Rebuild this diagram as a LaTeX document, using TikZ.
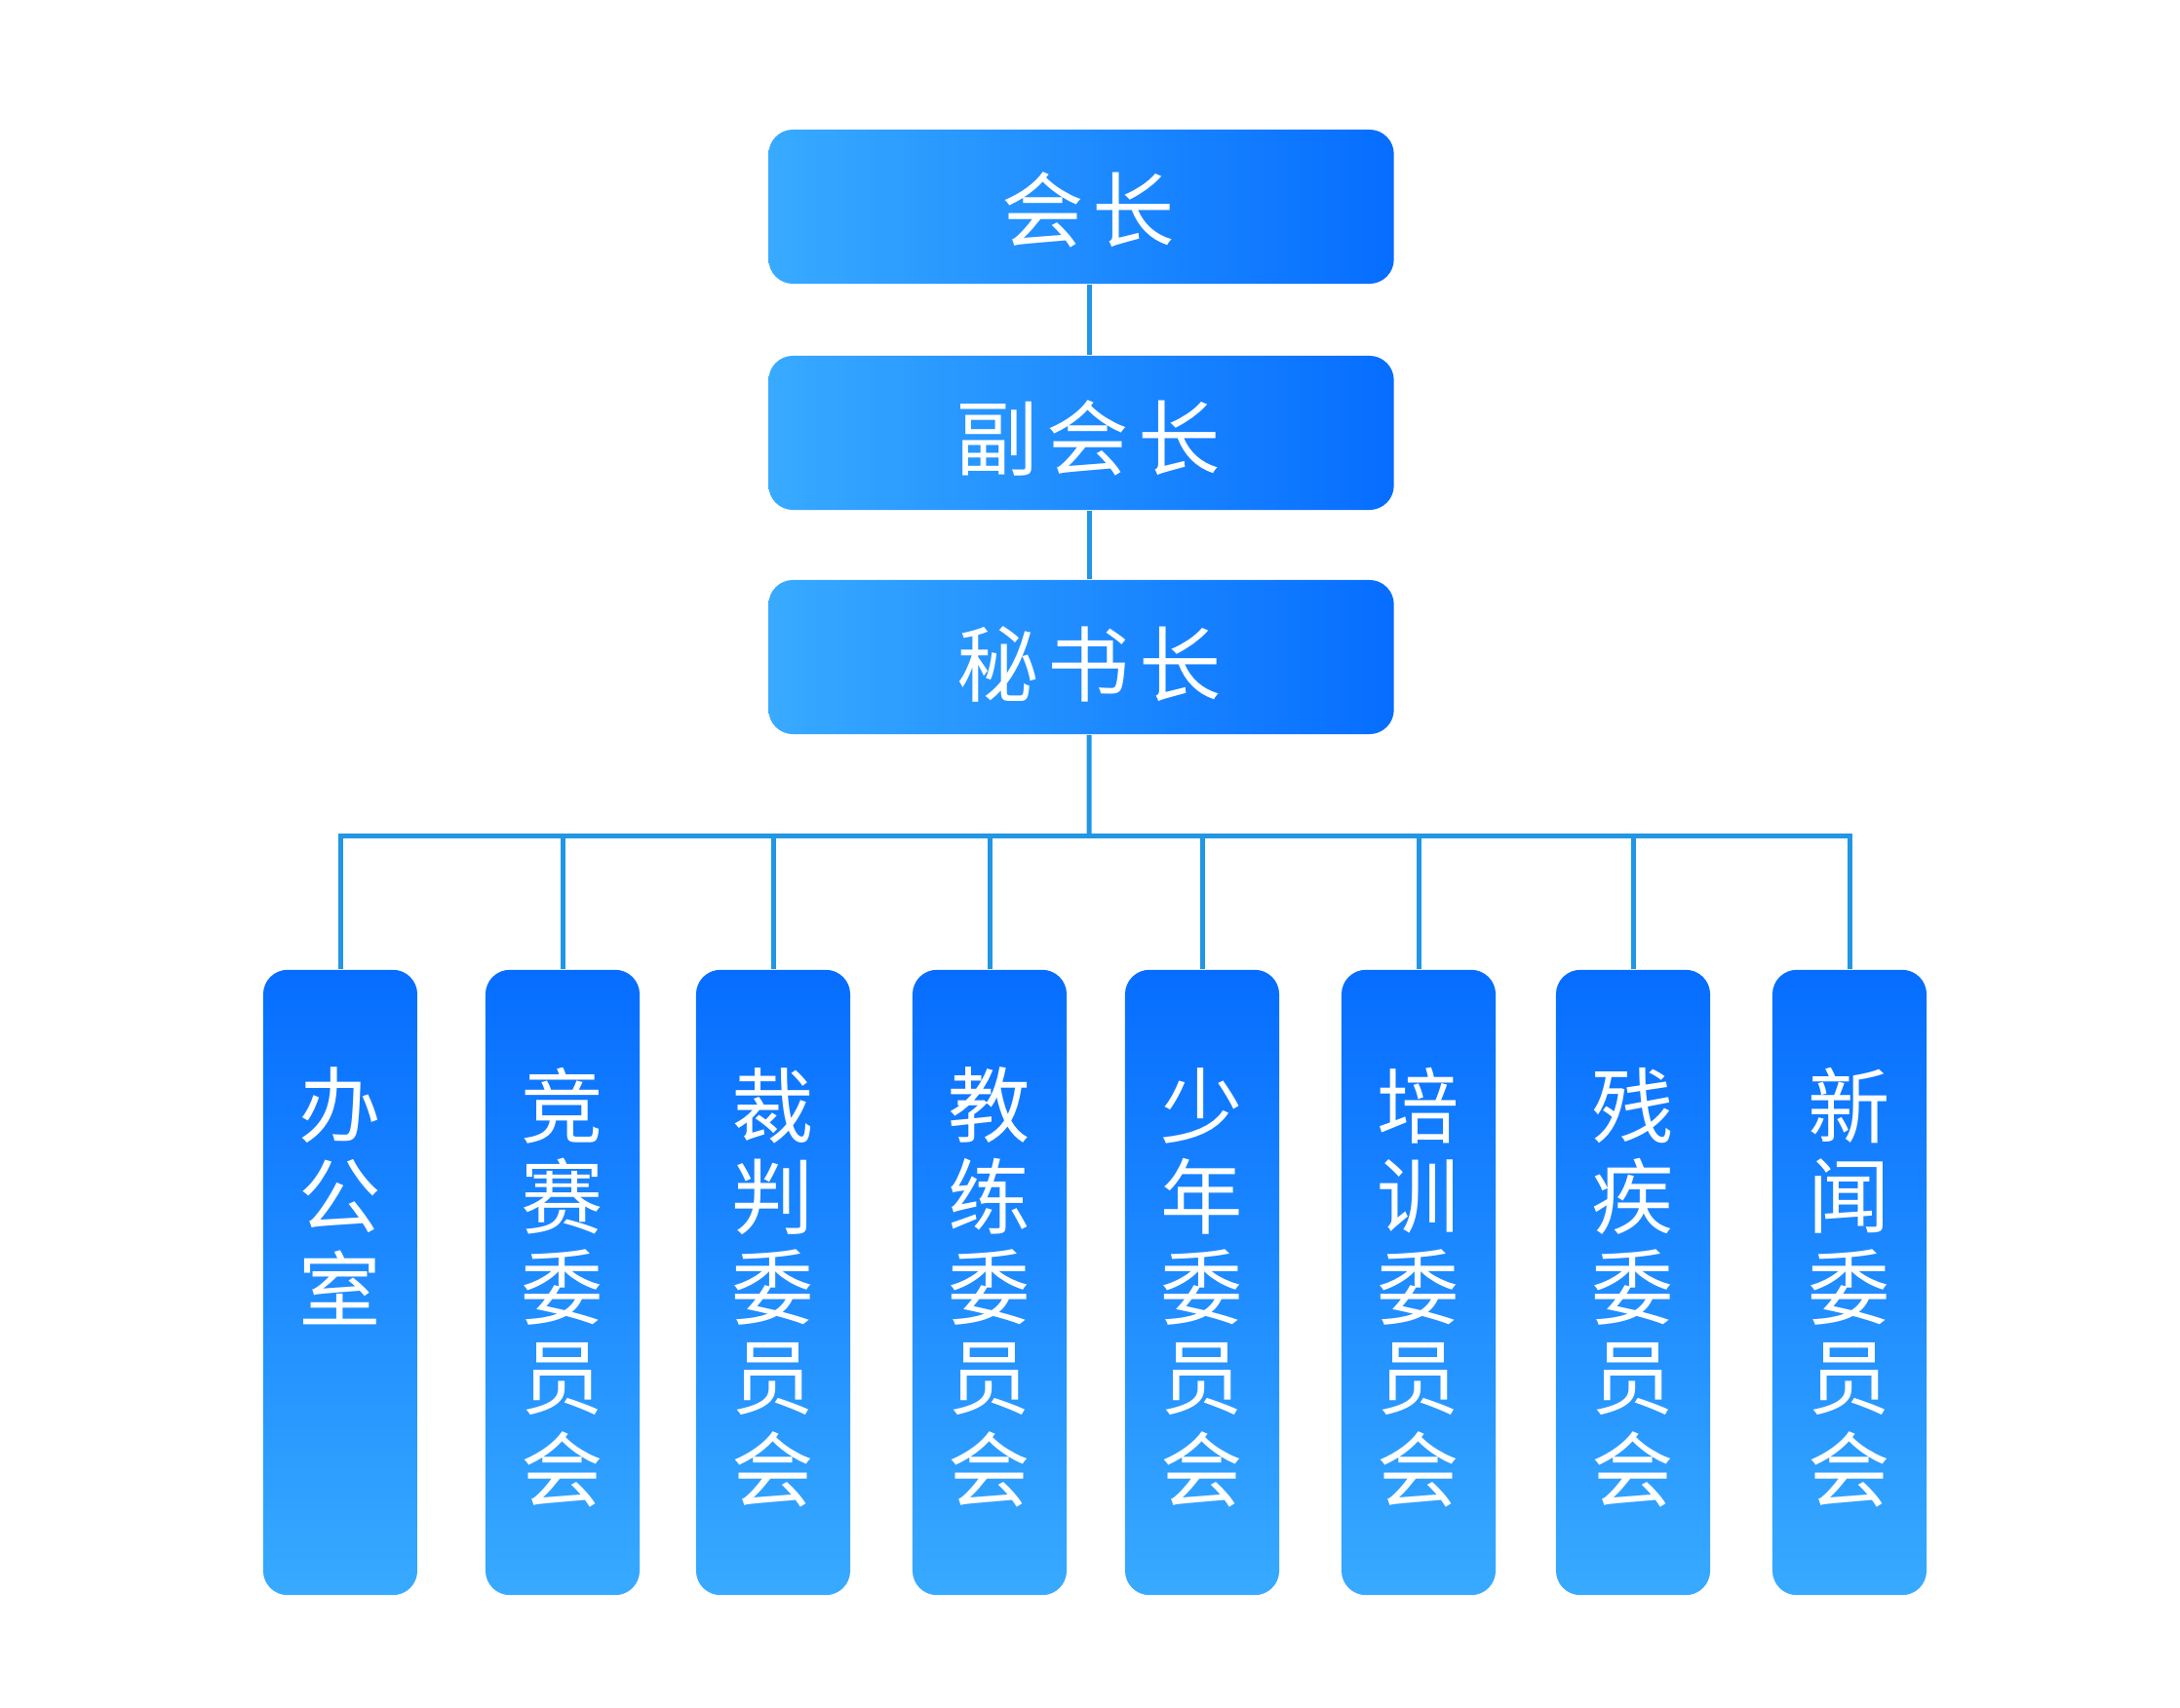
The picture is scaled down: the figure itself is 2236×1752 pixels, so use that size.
\documentclass[tikz,border=0pt]{standalone}
\usepackage{fontspec}
\newfontfamily\cjk{Noto Sans CJK SC}
\definecolor{lightb}{RGB}{56,170,255}
\definecolor{darkb}{RGB}{6,109,255}
\definecolor{linec}{RGB}{33,150,228}
\begin{document}
\begin{tikzpicture}[x=0.01cm,y=-0.01cm,
  hbox/.style={rounded corners=0.25cm, minimum width=6.41cm, minimum height=1.58cm, left color=lightb, right color=darkb, inner sep=0pt},
  vbox/.style={rounded corners=0.25cm, minimum width=1.58cm, minimum height=6.41cm, top color=darkb, bottom color=lightb, inner sep=0pt},
  txt/.style={text=white, font=\cjk\fontsize{24}{28}\selectfont, inner sep=0pt},
  conn/.style={draw=linec, line width=0.05cm}]
\fill[white] (0,0) rectangle (2236,1752);
\useasboundingbox (0,0) rectangle (2236,1752);
% top boxes
\node[hbox] (pres) at (1109,212) {};
\node[hbox] (vp) at (1109,444) {};
\node[hbox] (sec) at (1109,674) {};
\node[txt] (pres-t) at (1116,215) {会\kern2.6pt 长};
\node[txt] (vp-t) at (1116,449) {副\kern2.6pt 会\kern2.6pt 长};
\node[txt] (sec-t) at (1117,681) {秘\kern2.6pt 书\kern2.6pt 长};
% connectors
\coordinate (t1) at ([xshift=0.08cm]pres.south);
\coordinate (t2) at ([xshift=0.08cm]vp.north);
\coordinate (t3) at ([xshift=0.08cm]vp.south);
\coordinate (t4) at ([xshift=0.08cm]sec.north);
\coordinate (t5) at ([xshift=0.08cm]sec.south);
\coordinate (bus) at (1117,857);
\draw[conn] (t1) -- (t2);
\draw[conn] (t3) -- (t4);
\draw[conn] (t5) -- (bus);
% bottom boxes
\foreach \x [count=\i] in {349,577,793,1015,1233,1455,1675,1897}
  \node[vbox] (b\i) at (\x,1315.5) {};
\draw[conn] (b1.north) -- (b1.north |- bus) -- (b8.north |- bus) -- (b8.north);
\foreach \i in {2,...,7}
  \draw[conn] (b\i.north) -- (b\i.north |- bus);
% vertical texts
\newcommand{\vtext}[3]{%
  \foreach \c [count=\j] in {#3}
    \node[txt] (#1-\j) at (#2,{1134+(\j-1)*93.4}) {\c};}
\vtext{b1t}{349}{办,公,室}
\vtext{b2t}{577}{竞,赛,委,员,会}
\vtext{b3t}{793}{裁,判,委,员,会}
\vtext{b4t}{1015}{教,练,委,员,会}
\vtext{b5t}{1233}{少,年,委,员,会}
\vtext{b6t}{1455}{培,训,委,员,会}
\vtext{b7t}{1675}{残,疾,委,员,会}
\vtext{b8t}{1897}{新,闻,委,员,会}
\end{tikzpicture}
\end{document}
